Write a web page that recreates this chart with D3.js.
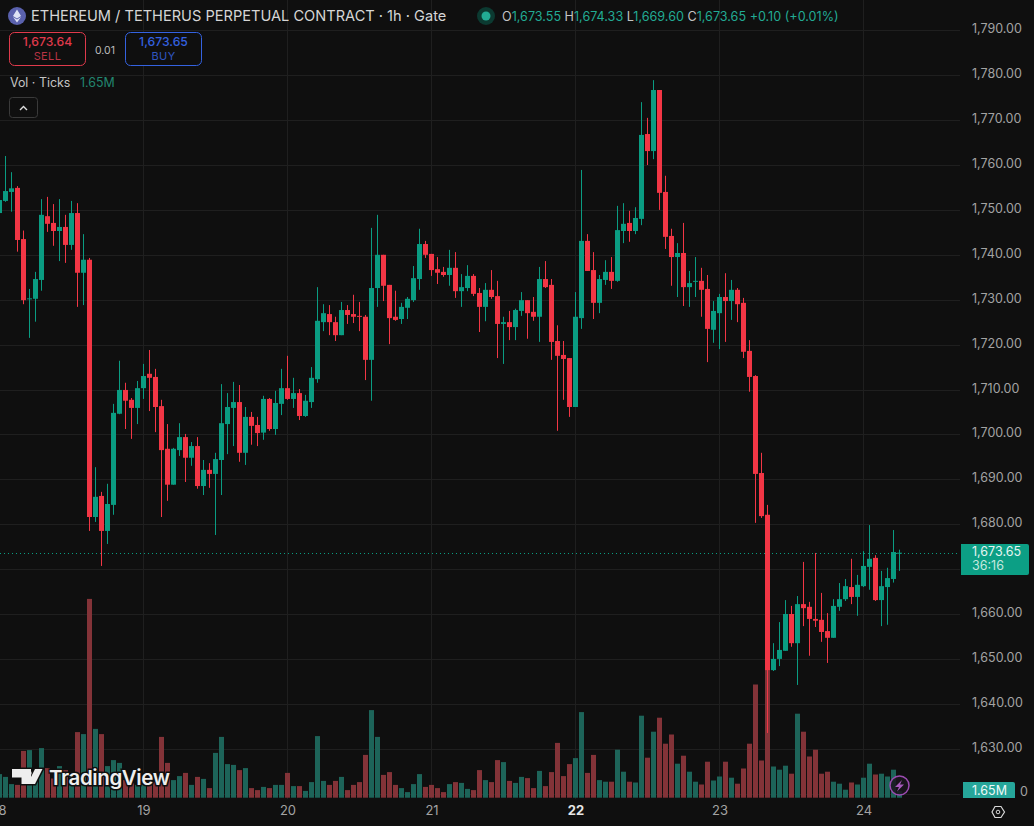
<!DOCTYPE html>
<html>
<head>
<meta charset="utf-8">
<title>ETH/USDT perpetual, 1h</title>
<script src="https://cdn.jsdelivr.net/npm/d3@7/dist/d3.min.js"></script>
<style>
html,body{margin:0;padding:0;background:#0f0f0f;overflow:hidden}
svg{display:block}
text{font-family:Inter,"Noto Sans",sans-serif}
</style>
</head>
<body>
<svg id="chart" width="1034" height="826"></svg>
<script>
// Hourly candles, index 0 = 18th 00:00
const opens = [
1749.3,1752.0,1754.0,1754.9,1743.5,1730.2,1730.2,1734.4,1748.6,1747.1,
1745.3,1746.2,1742.2,1749.3,1736.0,1738.9,1681.6,1686.3,1678.5,1684.3,
1704.6,1709.9,1707.7,1705.9,1710.3,1713.5,1712.8,1706.3,1696.8,1688.8,
1696.5,1699.4,1694.8,1697.4,1688.5,1692.1,1691.2,1694.3,1702.3,1705.9,
1707.2,1695.9,1703.9,1702.1,1700.4,1707.9,1701.2,1706.8,1710.3,1707.9,
1709.2,1704.1,1707.2,1712.3,1725.0,1726.8,1725.0,1722.1,1727.7,1726.8,
1726.4,1726.2,1716.6,1732.6,1740.0,1733.3,1726.2,1725.7,1728.2,1729.9,
1734.6,1742.4,1740.2,1736.8,1736.2,1735.5,1737.1,1731.9,1732.6,1735.3,
1731.5,1728.4,1732.2,1730.8,1724.6,1725.0,1723.9,1727.5,1729.9,1727.3,
1726.2,1734.6,1733.3,1720.8,1717.7,1717.0,1706.1,1725.9,1743.1,1736.6,
1729.3,1734.4,1736.2,1734.2,1745.3,1747.1,1745.3,1748.0,1766.9,1763.1,
1776.7,1754.0,1744.2,1739.5,1740.4,1732.8,1734.0,1734.2,1732.4,1723.3,
1727.0,1730.6,1729.7,1732.2,1729.3,1718.6,1713.0,1691.4,1682.1,1647.5,
1650.0,1651.8,1660.0,1653.5,1662.2,1661.6,1658.9,1658.7,1656.2,1654.7,
1661.6,1663.3,1666.0,1663.8,1666.2,1670.5,1672.5,1663.1,1666.0,1667.8,1673.55];
const closes = [
1752.2,1754.2,1754.8,1743.3,1729.9,1730.3,1734.6,1748.9,1746.9,1745.3,
1746.2,1742.2,1749.3,1736.0,1738.9,1681.6,1686.1,1678.5,1684.5,1704.8,
1709.9,1707.5,1705.9,1710.3,1713.0,1712.6,1706.1,1696.5,1688.8,1696.8,
1699.4,1694.8,1697.4,1688.5,1692.1,1691.2,1694.5,1702.5,1706.1,1707.2,
1695.9,1703.9,1701.9,1700.3,1707.9,1701.2,1707.0,1710.3,1707.9,1709.2,
1704.1,1707.5,1712.6,1725.3,1727.0,1725.0,1722.1,1727.7,1726.6,1726.2,
1726.2,1716.6,1732.6,1740.0,1733.1,1725.9,1725.5,1728.4,1730.2,1734.8,
1742.4,1740.0,1736.6,1736.0,1735.5,1737.1,1731.9,1732.8,1735.3,1731.3,
1728.4,1732.2,1730.6,1724.6,1725.0,1723.9,1727.7,1729.9,1727.0,1726.2,
1734.6,1732.8,1720.6,1717.5,1716.8,1706.1,1726.2,1743.1,1736.4,1729.3,
1734.6,1736.2,1734.2,1745.5,1746.9,1745.3,1748.2,1766.7,1763.1,1776.7,
1753.8,1744.0,1739.5,1740.4,1732.8,1733.7,1734.2,1732.2,1723.5,1727.5,
1730.6,1729.7,1732.2,1729.0,1718.4,1712.8,1691.2,1681.8,1647.5,1650.0,
1652.0,1660.0,1653.5,1662.2,1661.3,1658.9,1658.5,1656.0,1654.7,1661.8,
1663.3,1666.2,1663.8,1666.5,1670.7,1672.3,1663.1,1666.2,1668.0,1673.8,1673.65];
const highs = [
1753.3,1762.0,1758.4,1755.3,1745.4,1732.4,1736.2,1752.4,1752.9,1751.3,
1752.4,1748.9,1752.0,1751.5,1744.6,1739.3,1692.7,1687.2,1689.0,1706.8,
1716.4,1711.5,1708.1,1711.9,1715.7,1718.8,1714.6,1707.7,1702.3,1697.0,
1702.5,1700.1,1698.3,1699.4,1694.3,1693.6,1695.9,1711.2,1709.2,1711.7,
1711.0,1706.1,1705.0,1703.9,1708.6,1708.1,1709.7,1714.6,1717.5,1712.6,
1710.1,1708.8,1715.0,1732.8,1729.0,1728.8,1726.2,1729.5,1728.8,1731.1,
1729.5,1726.6,1746.0,1748.9,1740.0,1733.3,1732.0,1729.3,1730.6,1737.5,
1745.8,1743.1,1740.2,1739.5,1737.3,1741.1,1740.6,1735.7,1737.7,1735.7,
1732.6,1733.7,1736.6,1734.2,1726.2,1727.5,1728.0,1731.7,1729.9,1730.6,
1737.3,1738.6,1734.6,1724.3,1720.8,1717.0,1731.7,1758.9,1744.6,1740.6,
1735.5,1738.8,1739.5,1750.9,1751.5,1749.8,1750.6,1774.0,1770.5,1778.9,
1776.7,1757.6,1745.8,1742.6,1747.1,1736.4,1739.5,1737.1,1735.5,1729.7,
1731.3,1735.9,1734.4,1732.6,1730.4,1721.0,1713.2,1695.9,1684.3,1653.5,
1658.2,1663.1,1661.8,1664.0,1671.6,1662.7,1673.6,1664.7,1660.2,1663.3,
1666.9,1667.8,1672.3,1668.7,1674.0,1679.8,1673.1,1669.6,1670.3,1678.7,1674.33];
const lows = [
1748.7,1751.8,1749.6,1740.7,1729.0,1721.5,1725.1,1732.0,1745.1,1742.0,
1738.6,1738.2,1741.1,1728.4,1728.8,1678.5,1680.5,1670.7,1675.6,1682.1,
1704.5,1701.2,1699.0,1702.3,1707.9,1705.2,1700.5,1681.6,1685.2,1688.8,
1695.2,1689.4,1693.0,1687.9,1686.5,1688.1,1677.6,1686.5,1695.6,1697.4,
1693.9,1693.2,1697.7,1697.4,1698.8,1700.8,1699.9,1704.3,1707.7,1705.9,
1703.2,1703.9,1705.9,1711.5,1723.0,1722.1,1720.8,1722.1,1724.6,1724.8,
1723.0,1712.1,1707.5,1728.4,1729.7,1720.1,1725.3,1724.6,1725.7,1729.5,
1732.2,1739.3,1735.3,1733.5,1735.1,1733.1,1730.4,1728.4,1731.9,1730.8,
1722.8,1725.2,1730.2,1717.0,1715.7,1721.0,1721.0,1726.4,1721.3,1725.3,
1720.6,1732.6,1716.6,1700.8,1707.7,1703.9,1706.1,1723.5,1736.4,1725.7,
1727.0,1733.3,1732.4,1734.0,1742.6,1742.9,1744.6,1746.6,1760.0,1761.3,
1750.0,1741.3,1733.1,1730.6,1728.6,1728.4,1730.6,1726.2,1716.1,1720.4,
1719.0,1720.6,1725.5,1725.0,1717.0,1709.5,1680.3,1681.4,1633.5,1647.3,
1648.4,1651.8,1652.7,1644.2,1657.3,1650.7,1657.1,1653.8,1649.1,1654.7,
1660.7,1662.9,1662.2,1659.6,1666.0,1665.4,1662.9,1657.3,1657.6,1667.0,1669.60];
// Tick volume in millions
const volumes = [
5.9,5.2,3.4,3.2,11.7,11.9,6.1,12.4,7.4,4.8,
7.9,6.9,5.3,16.4,15.9,49.7,17.2,15.9,7.9,9.4,
8.7,4.4,3.6,3.2,3.3,3.2,4.0,15.2,8.7,4.4,
5.4,6.2,3.2,5.2,4.7,2.4,11.2,15.2,8.4,8.2,
6.9,7.4,2.4,1.9,2.7,2.4,3.2,3.2,6.2,2.9,
2.9,1.7,3.9,15.4,4.2,3.2,4.2,5.2,1.9,3.2,
3.9,10.7,21.9,15.2,5.7,6.4,3.2,2.4,1.4,3.4,
5.9,2.7,3.2,2.4,1.4,3.4,3.9,3.7,2.2,1.9,
6.9,4.4,3.9,9.4,8.9,4.2,3.7,5.2,4.9,2.4,
6.7,2.9,6.4,13.7,5.4,8.4,9.9,21.4,6.2,10.7,
4.4,4.0,4.0,12.0,6.5,4.0,3.8,20.5,10.0,16.5,
20.0,13.5,15.8,8.5,10.5,6.5,4.0,3.3,9.0,4.3,
5.3,9.0,5.0,3.5,7.3,13.5,28.3,9.3,32.5,7.8,
7.0,8.0,6.0,21.0,16.5,10.3,12.0,6.0,6.5,4.0,
3.5,2.0,3.8,3.3,5.0,8.5,5.8,6.0,5.3,7.0,1.65];

const priceTicks = [1790,1780,1770,1760,1750,1740,1730,1720,1710,1700,1690,1680,1670,1660,1650,1640,1630];
const lowestGrid = 1620;
const dayHours = [0,24,48,72,96,120,144];
const dayLabels = ["18","19","20","21","22","23","24"];
const lastPrice = 1673.65, lastVolume = 1.65;
const ohlcHeader = [["O","1,673.55"],["H","1,674.33"],["L","1,669.60"],["C","1,673.65"]];

const RED = "#f23645", GREEN = "#0a9c82";
const VOL_RED = "#833338", VOL_GREEN = "#1d6459";
const GRID = "#1f1f1f";
const paneRight = 960, volBase = 797.7;

const candles = opens.map((o,i)=>({i,o,c:closes[i],h:highs[i],l:lows[i],v:volumes[i]}));
const svg = d3.select("#chart");

const x = d3.scaleLinear().domain([0,160]).range([-0.5,959.5]);
const y = d3.scaleLinear().domain([1790,1620]).range([30.3,793.6]);
const yVol = d3.scaleLinear().domain([0,50]).range([volBase,volBase-200]);
const up = d => d.c >= d.o;

// Grid
const grid = svg.append("g");
grid.selectAll("line.h").data([...priceTicks,lowestGrid]).join("line").attr("class","h")
  .attr("x1",0).attr("x2",paneRight).attr("y1",d=>Math.round(y(d))+.5).attr("y2",d=>Math.round(y(d))+.5)
  .attr("stroke",GRID);
grid.selectAll("line.v").data(dayHours).join("line").attr("class","v")
  .attr("x1",d=>x(d)).attr("x2",d=>x(d)).attr("y1",0).attr("y2",799)
  .attr("stroke",GRID);

// Volume histogram
svg.append("g").selectAll("rect").data(candles).join("rect")
  .attr("x",d=>x(d.i)-2.5).attr("width",5)
  .attr("y",d=>yVol(d.v)).attr("height",d=>volBase-yVol(d.v))
  .attr("fill",d=>up(d)?VOL_GREEN:VOL_RED);

// Last-price dotted line
svg.append("line").attr("x1",0).attr("x2",paneRight)
  .attr("y1",Math.round(y(lastPrice))+.5).attr("y2",Math.round(y(lastPrice))+.5)
  .attr("stroke",GREEN).attr("stroke-dasharray","1 3");

// Candles
const cg = svg.append("g").selectAll("g").data(candles).join("g");
cg.append("line")
  .attr("x1",d=>x(d.i)).attr("x2",d=>x(d.i))
  .attr("y1",d=>y(d.h)).attr("y2",d=>y(d.l))
  .attr("stroke",d=>up(d)?GREEN:RED);
cg.append("rect")
  .attr("x",d=>x(d.i)-2.5).attr("width",5)
  .attr("y",d=>y(Math.max(d.o,d.c)))
  .attr("height",d=>Math.max(1,Math.abs(y(d.o)-y(d.c))))
  .attr("fill",d=>up(d)?GREEN:RED);

// Price axis
const priceAxis = d3.axisRight(y).tickValues(priceTicks).tickFormat(d3.format(",.2f")).tickSize(0).tickPadding(0);
const pa = svg.append("g").attr("transform","translate(972,-1.5)").call(priceAxis);
pa.select(".domain").remove();
pa.selectAll("text").attr("fill","#a3a3a3").attr("font-size",12.5).attr("font-family","Inter,sans-serif");

// Time axis
const timeAxis = d3.axisBottom(x).tickValues(dayHours).tickFormat((d,i)=>dayLabels[i]).tickSize(0).tickPadding(0);
const ta = svg.append("g").attr("transform","translate(0,806)").call(timeAxis);
ta.select(".domain").remove();
ta.selectAll("text").attr("fill",d=>d===96?"#e6e6e6":"#a3a3a3")
  .attr("font-weight",d=>d===96?700:400).attr("font-size",13).attr("font-family","Inter,sans-serif");

// Volume axis zero
svg.append("text").attr("x",1028).attr("y",y(lowestGrid)-1.5).attr("dy",".32em").attr("text-anchor","end")
  .attr("fill","#a3a3a3").attr("font-size",12.5).text("0");

// Watermark
const wm = svg.append("g");
const logoPath = "M12 769H31V784H21.5V777.5H12Z M42.5 769L35 784H27.5L35 769Z";
wm.append("path").attr("d",logoPath).attr("fill","none").attr("stroke","#0f0f0f").attr("stroke-width",3);
wm.append("path").attr("d",logoPath).attr("fill","#eeeeee");
wm.append("circle").attr("cx",29).attr("cy",773).attr("r",2.6).attr("fill","#eeeeee");
wm.append("text").attr("x",49).attr("y",784.5).attr("font-size",20.5).attr("font-weight",600)
  .attr("font-family","Inter,sans-serif").attr("letter-spacing",-0.4)
  .attr("fill","#eeeeee").attr("stroke","#0f0f0f").attr("stroke-width",3).attr("paint-order","stroke")
  .text("TradingView");

// Header row
svg.append("circle").attr("cx",17).attr("cy",16).attr("r",9).attr("fill","#5a61ad");
svg.append("path").attr("d","M17 9.5L21 16L17 18.5L13 16Z M17 19.5L21 17L17 22.5L13 17Z").attr("fill","#dfe3f5");
svg.append("text").attr("x",31).attr("y",21).attr("font-size",14.6).attr("fill","#d6d6d6")
  .text("ETHEREUM / TETHERUS PERPETUAL CONTRACT · 1h · Gate");
svg.append("circle").attr("cx",486).attr("cy",16).attr("r",9).attr("fill","#0c3a31");
svg.append("circle").attr("cx",486).attr("cy",16).attr("r",4.5).attr("fill","#22ab94");
const ohlc = svg.append("text").attr("x",502).attr("y",21).attr("font-size",12.6);
ohlcHeader.forEach(([k,v])=>{
  ohlc.append("tspan").attr("fill","#c4c4c4").text(k);
  ohlc.append("tspan").attr("fill","#22ab94").text(v+" ");
});
ohlc.append("tspan").attr("fill","#22ab94").text("+0.10 (+0.01%)");

// Trade buttons
function tradeBox(bx,w,col,dim,price,label){
  svg.append("rect").attr("x",bx+.5).attr("y",32.5).attr("width",w).attr("height",33).attr("rx",5)
    .attr("fill","#0f0f0f").attr("stroke",col);
  svg.append("text").attr("x",bx+w/2+.5).attr("y",46).attr("text-anchor","middle").attr("font-size",12.2)
    .attr("font-weight",500).attr("fill",col).text(price);
  svg.append("text").attr("x",bx+w/2+.5).attr("y",60).attr("text-anchor","middle").attr("font-size",11)
    .attr("letter-spacing",.4).attr("fill",dim).text(label);
}
tradeBox(9,76,"#e03a4c","#b83344","1,673.64","SELL");
tradeBox(125,76,"#3462e0","#2f55c0","1,673.65","BUY");
svg.append("text").attr("x",105).attr("y",53.5).attr("text-anchor","middle").attr("font-size",10.5).attr("fill","#bcbcbc").text("0.01");

// Volume legend
svg.append("text").attr("x",10).attr("y",87).attr("font-size",12.4).attr("fill","#c4c4c4").text("Vol · Ticks");
svg.append("text").attr("x",80).attr("y",87).attr("font-size",12.4).attr("fill","#22866f").text("1.65M");
svg.append("rect").attr("x",9.5).attr("y",97.5).attr("width",28).attr("height",20).attr("rx",3)
  .attr("fill","none").attr("stroke","#3a3a3a");
svg.append("path").attr("d","M20 110L23.5 106.5L27 110").attr("fill","none").attr("stroke","#dddddd").attr("stroke-width",1.4);

// Last-price tag
svg.append("path").attr("d","M961 544H1027a2 2 0 0 1 2 2V573a2 2 0 0 1 -2 2H961Z").attr("fill","#0c9f85");
svg.append("text").attr("x",972).attr("y",556).attr("font-size",12.5).attr("fill","#e6f5f1").text(d3.format(",.2f")(lastPrice));
svg.append("text").attr("x",972).attr("y",570).attr("font-size",12.5).attr("fill","#c4e8df").text("36:16");

// Last-volume tag
svg.append("path").attr("d","M963 782H1013a2 2 0 0 1 2 2V798H963Z").attr("fill","#26a69a");
svg.append("text").attr("x",972).attr("y",795).attr("font-size",12.5).attr("fill","#eefaf8").text(lastVolume+"M");

// Chart-settings hexagon
svg.append("path").attr("d","M992 812L995 806.5H1001L1004.5 812L1001 817.5H995Z").attr("fill","none").attr("stroke","#d8d8d8").attr("stroke-width",1.2);
svg.append("circle").attr("cx",998).attr("cy",812).attr("r",1.8).attr("fill","none").attr("stroke","#d8d8d8");

// Lightning badge
svg.append("circle").attr("cx",899.5).attr("cy",785.5).attr("r",9.5).attr("fill","#1a141d").attr("fill-opacity",.85).attr("stroke","#9a4bb0").attr("stroke-width",1.5);
svg.append("path").attr("d","M902 780L895 787H899L897 791.5L904 784.5H900Z").attr("fill","#a65abb");
</script>
</body>
</html>
